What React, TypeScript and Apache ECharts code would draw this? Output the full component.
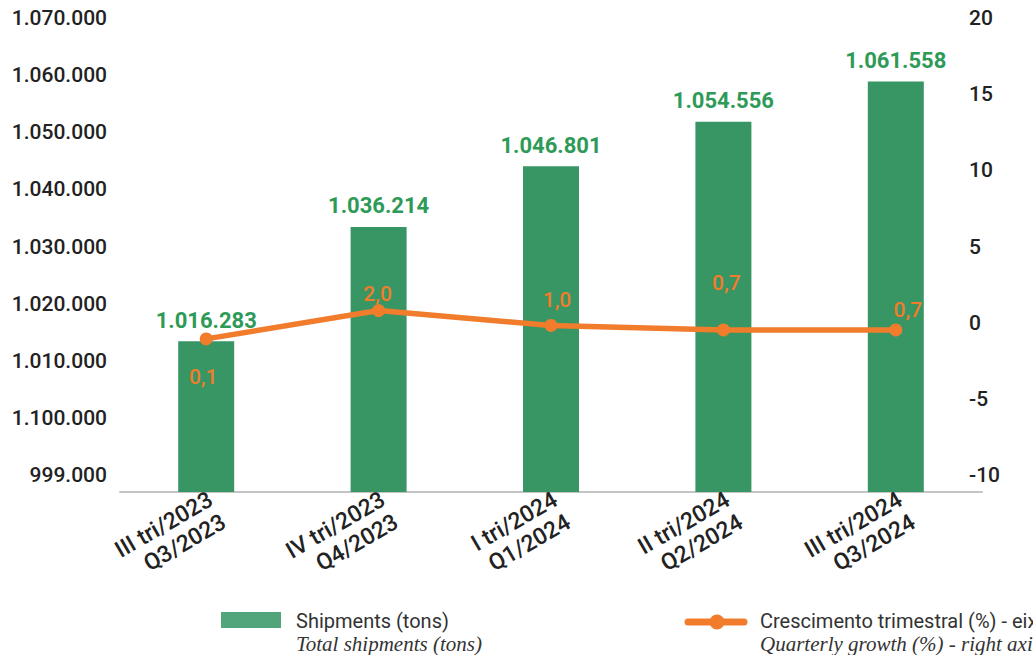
import React, { useEffect, useRef } from "react";
import * as echarts from "echarts";

const categories = [
  "III tri/2023\nQ3/2023",
  "IV tri/2023\nQ4/2023",
  "I tri/2024\nQ1/2024",
  "II tri/2024\nQ2/2024",
  "III tri/2024\nQ3/2024",
];
const shipments = [1016283, 1036214, 1046801, 1054556, 1061558];
const growth = [0.1, 2.0, 1.0, 0.7, 0.7];
const leftTickLabels = [
  "999.000",
  "1.100.000",
  "1.010.000",
  "1.020.000",
  "1.030.000",
  "1.040.000",
  "1.050.000",
  "1.060.000",
  "1.070.000",
];
const rightTickLabels = ["-10", "-5", "0", "5", "10", "15", "20"];
const barName = "Shipments (tons)";
const barNameEn = "Total shipments (tons)";
const lineName = "Crescimento trimestral (%) - eixo direito";
const lineNameEn = "Quarterly growth (%) - right axis";

// label placement (style only)
const lineLabelOffsets: number[][] = [
  [-3, 38],
  [-1, -17],
  [6, -25],
  [3, -47],
  [12, -20],
];

const FONT = "Roboto";
const GREEN = "#379663";
const GREEN_TXT = "#2e9a57";
const ORANGE = "#f07c2c";

const fmtThousands = (v: number) =>
  String(Math.round(v)).replace(/\B(?=(\d{3})+(?!\d))/g, ".");
const fmtDec = (v: number) => v.toFixed(1).replace(".", ",");

export default function App() {
  const ref = useRef<HTMLDivElement>(null);
  useEffect(() => {
    document.body.style.margin = "0";
    const chart = echarts.init(ref.current!, null, { renderer: "svg" });
    const option: any = {
      animation: false,
      backgroundColor: "#ffffff",
      grid: [
        { left: 120, right: 51, top: 20, bottom: 163 },
        { left: 120, right: 78, top: 18, bottom: 180 },
        { left: 131, right: 40, top: 20, bottom: 163 },
      ],
      xAxis: [
        {
          type: "category",
          gridIndex: 0,
          data: categories,
          axisLine: { show: true, onZero: false, lineStyle: { color: "#c4c4c4", width: 2 } },
          axisTick: { show: false },
          axisLabel: { show: false },
        },
        { type: "value", gridIndex: 1, show: false },
        {
          type: "category",
          gridIndex: 2,
          data: categories,
          axisLine: { show: false, onZero: false },
          axisTick: { show: false },
          axisLabel: {
            interval: 0,
            rotate: 30,
            margin: 17,
            color: "#222",
            fontFamily: FONT,
            fontSize: 23,
            fontWeight: 500,
            lineHeight: 26,
          },
        },
      ],
      yAxis: [
        { type: "value", gridIndex: 0, min: 990000, max: 1072300, show: false },
        { type: "value", gridIndex: 0, min: -10.15, max: 21.45, show: false },
        {
          type: "value",
          gridIndex: 1,
          position: "left",
          min: 0,
          max: 8,
          interval: 1,
          axisLine: { show: false },
          axisTick: { show: false },
          splitLine: { show: false },
          axisLabel: {
            margin: 13,
            color: "#222",
            fontFamily: FONT,
            fontSize: 21,
            fontWeight: 500,
            formatter: (v: number) => leftTickLabels[Math.round(v)] ?? "",
          },
        },
        {
          type: "value",
          gridIndex: 1,
          position: "right",
          min: -10,
          max: 20,
          interval: 5,
          axisLine: { show: false },
          axisTick: { show: false },
          splitLine: { show: false },
          axisLabel: {
            margin: 14,
            color: "#222",
            fontFamily: FONT,
            fontSize: 21,
            fontWeight: 500,
            formatter: (v: number) => rightTickLabels[Math.round((v + 10) / 5)] ?? "",
          },
        },
        { type: "value", gridIndex: 2, show: false },
      ],
      series: [
        {
          type: "bar",
          name: barName,
          xAxisIndex: 0,
          yAxisIndex: 0,
          data: shipments,
          barWidth: 56,
          itemStyle: { color: GREEN },
          label: {
            show: true,
            position: "top",
            distance: 10,
            color: GREEN_TXT,
            fontFamily: FONT,
            fontSize: 22,
            fontWeight: "bold",
            formatter: (p: any) => fmtThousands(p.value),
          },
          z: 2,
        },
        {
          type: "line",
          name: lineName,
          xAxisIndex: 0,
          yAxisIndex: 1,
          data: growth.map((v, i) => ({
            value: v,
            label: { offset: lineLabelOffsets[i] },
          })),
          symbol: "circle",
          symbolSize: 13,
          itemStyle: { color: ORANGE },
          lineStyle: { color: ORANGE, width: 5.5 },
          label: {
            show: true,
            position: "inside",
            color: ORANGE,
            fontFamily: FONT,
            fontSize: 21,
            fontWeight: 500,
            formatter: (p: any) => fmtDec(p.value),
          },
          z: 3,
        },
      ],
      graphic: [
        { type: "rect", left: 221, top: 612, shape: { width: 60, height: 16 }, style: { fill: "#52a57a" } },
        {
          type: "text",
          x: 296,
          y: 621,
          style: { text: barName, fill: "#333", font: `400 20px ${FONT}`, verticalAlign: "middle" },
        },
        {
          type: "text",
          x: 296,
          y: 644,
          style: { text: barNameEn, fill: "#333", font: `italic 21px "Liberation Serif"`, verticalAlign: "middle" },
        },
        {
          type: "line",
          shape: { x1: 688, y1: 622, x2: 744, y2: 622 },
          style: { stroke: ORANGE, lineWidth: 7, lineCap: "round" },
        },
        { type: "circle", shape: { cx: 717, cy: 622, r: 7.5 }, style: { fill: ORANGE } },
        {
          type: "text",
          x: 760,
          y: 621,
          style: { text: lineName, fill: "#333", font: `400 20px ${FONT}`, verticalAlign: "middle" },
        },
        {
          type: "text",
          x: 760,
          y: 644,
          style: { text: lineNameEn, fill: "#333", font: `italic 21px "Liberation Serif"`, verticalAlign: "middle" },
        },
      ],
    };
    chart.setOption(option);
    return () => chart.dispose();
  }, []);
  return <div ref={ref} style={{ width: 1033, height: 655, overflow: "hidden" }} />;
}
